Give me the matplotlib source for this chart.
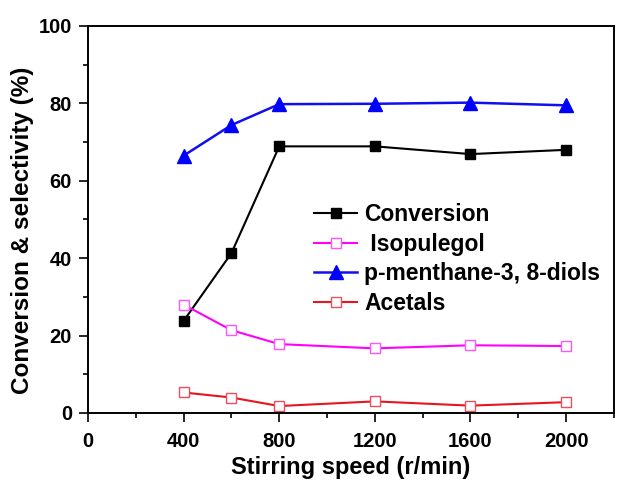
import matplotlib.pyplot as plt
from matplotlib.ticker import MultipleLocator

plt.rcParams['font.family'] = ['Liberation Sans', 'DejaVu Sans']
plt.rcParams['font.weight'] = 'bold'

speed = [400, 600, 800, 1200, 1600, 2000]
conversion = [23.8, 41.3, 68.9, 68.9, 66.9, 68.0]
isopulegol = [28.0, 21.4, 17.8, 16.7, 17.5, 17.3]
diols = [66.5, 74.4, 79.8, 79.9, 80.2, 79.5]
acetals = [5.3, 4.0, 1.8, 3.0, 1.9, 2.8]

fig = plt.figure(figsize=(6.18, 4.84), dpi=100)
ax = fig.add_axes([0.1424, 0.1467, 0.851, 0.7996])

ax.plot(speed, conversion, color='black', lw=1.5, marker='s', ms=7.5,
        label='Conversion')
ax.plot(speed, isopulegol, color='#ff00ff', lw=1.5, marker='s', ms=7.5,
        mfc='white', mec='#ff55ff', label=' Isopulegol')
ax.plot(speed, diols, color='#1010ee', lw=1.8, marker='^', ms=9.5,
        mfc='#0000ff', mec='#0000ff', label='p-menthane-3, 8-diols')
ax.plot(speed, acetals, color='#e8141e', lw=1.5, marker='s', ms=7.5,
        mfc='white', mec='#e85060', label='Acetals')

ax.set_xlim(0, 2200)
ax.set_ylim(0, 100)
ax.set_xticks([0, 400, 800, 1200, 1600, 2000])
ax.set_yticks([0, 20, 40, 60, 80, 100])
ax.xaxis.set_minor_locator(MultipleLocator(200))
ax.yaxis.set_minor_locator(MultipleLocator(10))
ax.tick_params(which='major', direction='out', length=6.5, width=1.2,
               labelsize=14.5, top=False, right=False)
ax.tick_params(axis='x', which='major', pad=7)
ax.tick_params(axis='y', which='major', pad=5)
ax.tick_params(which='minor', direction='out', length=3.5, width=1.2,
               top=False, right=False)
for s in ax.spines.values():
    s.set_linewidth(1.4)

ax.set_xlabel('Stirring speed (r/min)', fontsize=17, fontweight='bold', labelpad=4)
ax.set_ylabel('Conversion & selectivity (%)', fontsize=17.5, fontweight='bold', labelpad=3)
ax.yaxis.label.set_y(0.472)

ax.legend(loc='upper left', bbox_to_anchor=(0.413, 0.566), frameon=False,
          fontsize=16.5, handlelength=1.88, handletextpad=0.3, labelspacing=0.29,
          borderaxespad=0)

fig.savefig('out.png', dpi=100)
